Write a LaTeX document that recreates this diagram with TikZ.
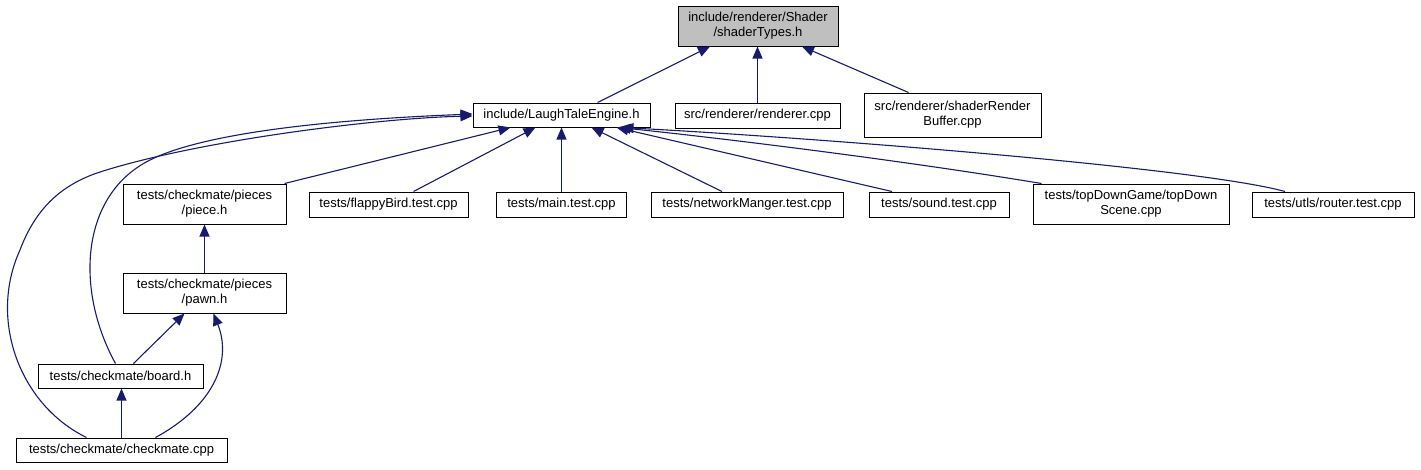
\documentclass[tikz,border=0pt]{standalone}
\usepackage{fontspec}
\setmainfont{Liberation Sans}
\usetikzlibrary{arrows.meta}
\definecolor{lien}{RGB}{25,25,112}
\definecolor{gris}{RGB}{191,191,191}

\begin{document}
\begin{tikzpicture}[x=1pt, y=-1pt,
    fichier/.style={draw=black, line width=1pt, fill=white, inner sep=0pt, align=center, font=\fontsize{13}{15}\selectfont},
    inclut/.style={draw=lien, line width=1.1pt, -{Triangle[length=12pt,width=10pt]}}]
    \useasboundingbox (0,0) rectangle (1421,469);

    % Fichier inclus
    \node[fichier, fill=gris, minimum width=160, minimum height=40] (shadertypes) at (758,26) {include/renderer/Shader\\/shaderTypes.h};

    % Premier niveau
    \node[fichier, minimum width=177, minimum height=24] (laugh) at (561.5,115) {include/LaughTaleEngine.h};
    \node[fichier, minimum width=165, minimum height=25] (renderer) at (757.5,115.5) {src/renderer/renderer.cpp};
    \node[fichier, minimum width=177, minimum height=44] (srb) at (952.5,115) {src/renderer/shaderRender\\Buffer.cpp};

    % Tests
    \node[fichier, minimum width=163, minimum height=40] (piece) at (204.5,204) {tests/checkmate/pieces\\/piece.h};
    \node[fichier, minimum width=159, minimum height=25] (flappy) at (388.5,204.5) {tests/flappyBird.test.cpp};
    \node[fichier, minimum width=130, minimum height=25] (maintest) at (561.5,204.5) {tests/main.test.cpp};
    \node[fichier, minimum width=192, minimum height=25] (network) at (747,204.5) {tests/networkManger.test.cpp};
    \node[fichier, minimum width=140, minimum height=25] (sound) at (939,204.5) {tests/sound.test.cpp};
    \node[fichier, minimum width=196, minimum height=40] (topdown) at (1131,204) {tests/topDownGame/topDown\\Scene.cpp};
    \node[fichier, minimum width=162, minimum height=25] (router) at (1333,204.5) {tests/utls/router.test.cpp};
    \node[fichier, minimum width=163, minimum height=40] (pawn) at (204.5,293) {tests/checkmate/pieces\\/pawn.h};
    \node[fichier, minimum width=165, minimum height=24] (board) at (120.5,376) {tests/checkmate/board.h};
    \node[fichier, minimum width=211, minimum height=24] (checkmate) at (121.5,450) {tests/checkmate/checkmate.cpp};

    % Inclusions vers shaderTypes.h
    \draw[inclut] ([xshift=36]laugh.north) -- ([xshift=-48]shadertypes.south);
    \draw[inclut] (renderer.north) -- (renderer.north |- shadertypes.south);
    \draw[inclut] ([xshift=-44]srb.north) -- ([xshift=44]shadertypes.south);

    % Inclusions vers LaughTaleEngine.h
    \draw[inclut] ([xshift=-2]piece.north east) -- ([xshift=-51]laugh.south);
    \draw[inclut] ([xshift=25]flappy.north) -- ([xshift=-26]laugh.south);
    \draw[inclut] (maintest.north) -- (laugh.south);
    \draw[inclut] ([xshift=-25]network.north) -- ([xshift=30]laugh.south);
    \draw[inclut] ([xshift=-47]sound.north) -- ([xshift=55]laugh.south);
    \draw[inclut] ([xshift=9]topdown.north west) .. controls (900,160) and (720,138) .. ([xshift=57]laugh.south);
    \draw[inclut] ([xshift=-48]router.north) .. controls (1200,168) and (820,138) .. ([xshift=60]laugh.south);
    \draw[inclut] ([xshift=-5]board.north) .. controls (75,290) and (80,195) .. (150,160) .. controls (220,125) and (400,117) .. ([yshift=1pt]laugh.west);
    \draw[inclut] ([xshift=-35]checkmate.north) .. controls (20,405) and (-12,320) .. (20,250) .. controls (35,210) and (60,185) .. (100,172) .. controls (200,140) and (380,118) .. ([yshift=-1pt]laugh.west);

    % Pieces et echiquier
    \draw[inclut] (pawn.north) -- (piece.south);
    \draw[inclut] ([xshift=13]board.north) -- ([xshift=-20]pawn.south);
    \draw[inclut] ([xshift=34]checkmate.north) .. controls (215,405) and (232,360) .. ([xshift=9]pawn.south);
    \draw[inclut] (checkmate.north) -- (checkmate.north |- board.south);
\end{tikzpicture}
\end{document}
